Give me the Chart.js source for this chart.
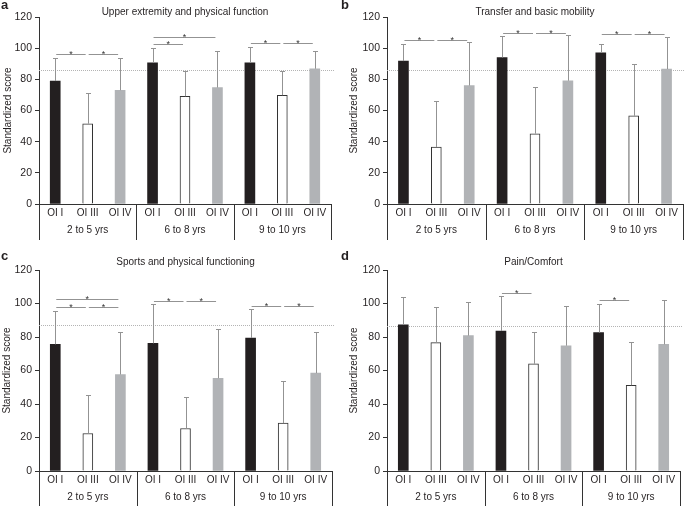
<!DOCTYPE html>
<html>
<head>
<meta charset="utf-8">
<script src="https://cdn.jsdelivr.net/npm/chart.js@4.4.1/dist/chart.umd.min.js"></script>
<style>
body { margin: 0; background: #fff; }
#wrap { position: relative; width: 685px; height: 506px; overflow: hidden; }
canvas { position: absolute; }
</style>
</head>
<body>
<div id="wrap">
  <canvas id="panelA" width="342" height="250" style="left:0px;top:0px"></canvas>
  <canvas id="panelB" width="345" height="250" style="left:340px;top:0px"></canvas>
  <canvas id="panelC" width="342" height="256" style="left:0px;top:250px"></canvas>
  <canvas id="panelD" width="345" height="256" style="left:340px;top:250px"></canvas>
</div>
<script>
const categories = ['OI I', 'OI III', 'OI IV', 'OI I', 'OI III', 'OI IV', 'OI I', 'OI III', 'OI IV'];
const ageGroups = ['2 to 5 yrs', '6 to 8 yrs', '9 to 10 yrs'];

// a - upper extremity
const upperMean = [78.9, 51.5, 73.0, 90.6, 69.1, 74.7, 90.6, 69.8, 86.8];
const upperSD = [14.7, 19.5, 20.6, 9.4, 16.2, 23.6, 10.4, 15.7, 11.5];
const upperSig = [[0, 1, 96.4], [1, 2, 96.4], [3, 4, 102.5], [3, 5, 107.2], [6, 7, 103.4], [7, 8, 103.4]];

// b - transfer
const transferMean = [91.7, 36.6, 76.0, 94.0, 45.1, 79.1, 97.0, 56.6, 86.6];
const transferSD = [11.1, 29.6, 28.0, 13.7, 30.2, 29.4, 5.6, 33.4, 20.6];
const transferSig = [[0, 1, 105.1], [1, 2, 105.1], [3, 4, 109.8], [4, 5, 109.8], [6, 7, 109.1], [7, 8, 109.1]];

// c - sports
const sportsMean = [75.6, 22.4, 57.6, 76.2, 25.4, 55.4, 79.4, 28.6, 58.4];
const sportsSD = [20.2, 22.8, 25.2, 23.4, 19.0, 29.4, 17.4, 25.0, 24.6];
const sportsSig = [[0, 1, 97.8], [1, 2, 97.8], [0, 2, 102.6], [3, 4, 101.2], [4, 5, 101.6], [6, 7, 98.6], [7, 8, 98.6]];

// d - pain
const painMean = [87.2, 76.6, 80.8, 83.6, 64.0, 74.8, 82.6, 51.2, 75.6];
const painSD = [16.8, 21.4, 20.2, 21.0, 19.0, 23.8, 17.2, 25.6, 26.2];
const painSig = [[3, 4, 106.2], [6, 7, 101.8]];

const refLines = [86.2, 85.8, 87.2, 86.8];

const fills = ['#231f20', '#ffffff', '#b1b3b6'];
const FONT = "'Liberation Sans', Arial, sans-serif";

const panels = [
    { id: 'panelA', letter: 'a', title: 'Upper extremity and physical function', mean: upperMean, sd: upperSD, sig: upperSig, ref: refLines[0],
      pad: { top: 17, right: 11 }, yWidth: 39, xHeight: 46, yTitlePad: 2, letterY: 9 },
    { id: 'panelB', letter: 'b', title: 'Transfer and basic mobility', mean: transferMean, sd: transferSD, sig: transferSig, ref: refLines[1],
      pad: { top: 17, right: 2 }, yWidth: 47, xHeight: 46, yTitlePad: 8, letterY: 9 },
    { id: 'panelC', letter: 'c', title: 'Sports and physical functioning', mean: sportsMean, sd: sportsSD, sig: sportsSig, ref: refLines[2],
      pad: { top: 20, right: 10 }, yWidth: 39, xHeight: 35, yTitlePad: 1, letterY: 10 },
    { id: 'panelD', letter: 'd', title: 'Pain/Comfort', mean: painMean, sd: painSD, sig: painSig, ref: refLines[3],
      pad: { top: 20, right: 5 }, yWidth: 47, xHeight: 35, yTitlePad: 8, letterY: 10 }
];

function makeExtras(p) {
    return {
        id: 'extras',
        beforeDatasetsDraw(chart) {
            const { ctx, chartArea: a, scales: { y } } = chart;
            const yy = Math.round(y.getPixelForValue(p.ref)) + 0.5;
            ctx.save();
            ctx.strokeStyle = '#b4b4b4';
            ctx.lineWidth = 1;
            ctx.setLineDash([1, 1]);
            ctx.beginPath();
            ctx.moveTo(a.left, yy);
            ctx.lineTo(a.right + 3, yy);
            ctx.stroke();
            ctx.restore();
        },
        afterDatasetsDraw(chart) {
            const { ctx, scales: { y } } = chart;
            const meta = chart.getDatasetMeta(0);
            ctx.save();
            ctx.strokeStyle = '#939393';
            ctx.lineWidth = 1;
            meta.data.forEach((bar, i) => {
                const top = Math.round(y.getPixelForValue(p.mean[i] + p.sd[i])) + 0.5;
                const x = Math.round(bar.x) + 0.5;
                ctx.beginPath();
                ctx.moveTo(x, bar.y);
                ctx.lineTo(x, top);
                ctx.moveTo(x - 2.5, top);
                ctx.lineTo(x + 2.5, top);
                ctx.stroke();
            });
            // significance lines
            ctx.fillStyle = '#333';
            ctx.font = '9px ' + FONT;
            ctx.textAlign = 'center';
            ctx.textBaseline = 'alphabetic';
            p.sig.forEach(([from, to, level]) => {
                const x1 = meta.data[from].x + 1;
                const x2 = meta.data[to].x - 2;
                const yy = Math.round(y.getPixelForValue(level)) + 0.5;
                ctx.beginPath();
                ctx.moveTo(x1, yy);
                ctx.lineTo(x2, yy);
                ctx.stroke();
                ctx.fillText('*', (x1 + x2) / 2, yy + 2);
            });
            ctx.restore();
        },
        afterDraw(chart) {
            const { ctx, chartArea: a } = chart;
            const w = (a.right - a.left) / 3;
            ctx.save();
            ctx.strokeStyle = '#333';
            ctx.lineWidth = 1;
            for (let k = 0; k <= 3; k++) {
                const x = Math.round(a.left + k * w) + 0.5;
                ctx.beginPath();
                ctx.moveTo(x, a.bottom);
                ctx.lineTo(x, a.bottom + 36);
                ctx.stroke();
            }
            ctx.fillStyle = '#231f20';
            ctx.font = '10px ' + FONT;
            ctx.textAlign = 'center';
            ctx.textBaseline = 'middle';
            ageGroups.forEach((g, k) => {
                ctx.fillText(g, a.left + (k + 0.5) * w, a.bottom + 26);
            });
            ctx.fillText(p.title, (a.left + a.right) / 2, 12);
            ctx.font = 'bold 13px ' + FONT;
            ctx.textAlign = 'left';
            ctx.textBaseline = 'alphabetic';
            ctx.fillText(p.letter, 1, p.letterY);
            ctx.restore();
        }
    };
}

panels.forEach(p => {
    new Chart(document.getElementById(p.id), {
        type: 'bar',
        data: {
            labels: categories,
            datasets: [{
                data: p.mean,
                backgroundColor: p.mean.map((v, i) => fills[i % 3]),
                borderColor: '#333',
                borderWidth: p.mean.map((v, i) => i % 3 === 1 ? 1 : 0),
                barThickness: 10
            }]
        },
        options: {
            responsive: false,
            animation: false,
            events: [],
            layout: { padding: { top: p.pad.top, right: p.pad.right, left: 0, bottom: 0 } },
            plugins: { legend: { display: false }, tooltip: { enabled: false } },
            scales: {
                x: {
                    afterFit: s => { s.height = p.xHeight; },
                    grid: { display: true, drawOnChartArea: false, drawTicks: false },
                    border: { display: true, color: '#333', width: 1 },
                    ticks: { autoSkip: false, maxRotation: 0, padding: 3, color: '#231f20', font: { family: FONT, size: 10 } }
                },
                y: {
                    min: 0,
                    max: 120,
                    afterFit: s => { s.width = p.yWidth; },
                    grid: { display: true, drawOnChartArea: false, drawTicks: true, tickLength: 4, color: '#333' },
                    border: { display: true, color: '#333', width: 1 },
                    ticks: { stepSize: 20, padding: 3, color: '#231f20', font: { family: FONT, size: 10.5 } },
                    title: { display: true, text: 'Standardized score', color: '#231f20', padding: { top: p.yTitlePad, bottom: 0 }, font: { family: FONT, size: 10 } }
                }
            }
        },
        plugins: [makeExtras(p)]
    });
});
</script>
</body>
</html>
